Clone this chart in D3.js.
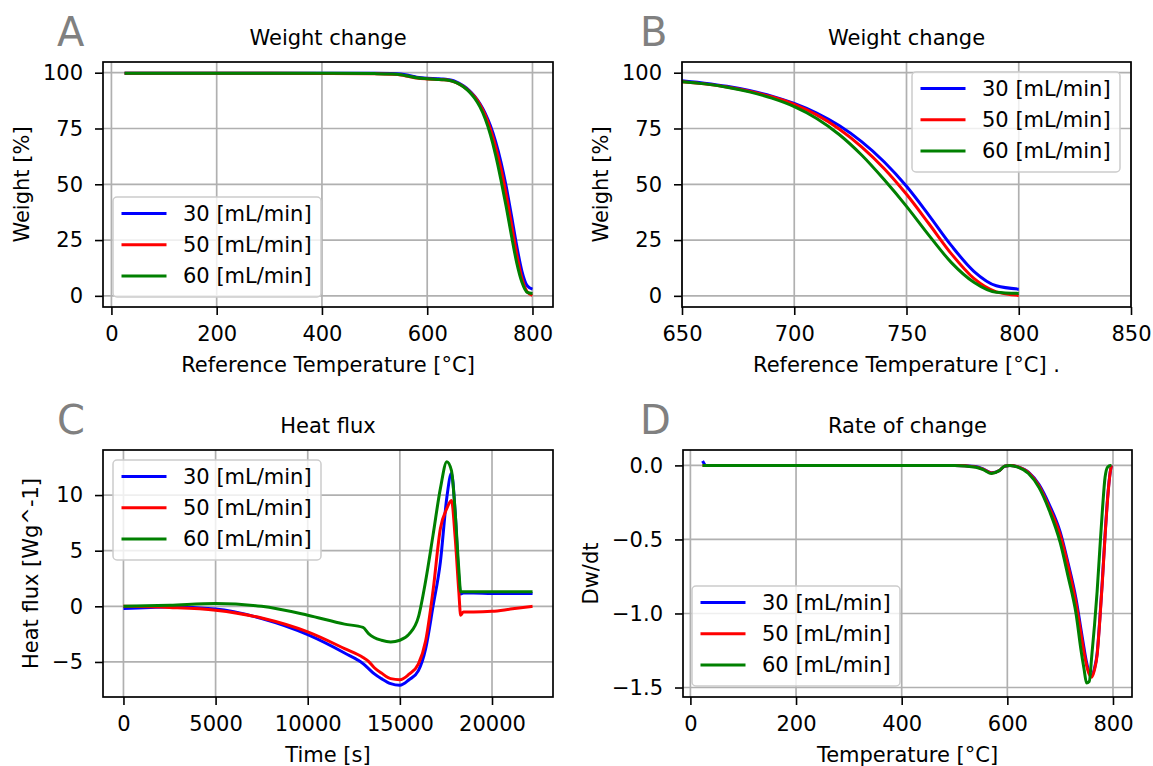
<!DOCTYPE html>
<html>
<head>
<meta charset="utf-8">
<script src="https://cdn.jsdelivr.net/npm/d3@7"></script>
<style>
  body { margin: 0; background: #fff; }
  svg { display: block; font-family: "DejaVu Sans", sans-serif; }
</style>
</head>
<body>
<svg id="fig" width="1153" height="766"></svg>
<script>
// ---------- data ----------
const seriesNames = ["30 [mL/min]", "50 [mL/min]", "60 [mL/min]"];
const seriesColors = ["#0000ff", "#ff0000", "#008000"];

// A + B: weight vs reference temperature
const weightTemp = [25, 100, 200, 300, 400, 500, 530, 550, 565, 580, 600, 620, 630, 640, 650, 660, 670, 680, 690, 700, 710, 720, 730, 740, 750, 760, 770, 780, 790, 800];
const weight30 = [99.8, 99.8, 99.8, 99.8, 99.8, 99.75, 99.65, 99.4, 98.8, 98.0, 97.5, 97.35, 97.2, 96.9, 96.4, 95.3, 93.9, 92.0, 89.5, 86.2, 81.9, 76.3, 69.1, 60.1, 49.1, 36.1, 22.5, 11.0, 4.5, 3.0];
const weight50 = [99.8, 99.8, 99.8, 99.75, 99.7, 99.55, 99.35, 99.0, 98.3, 97.6, 97.2, 97.0, 96.85, 96.6, 96.0, 95.0, 93.6, 91.7, 89.2, 85.8, 81.1, 74.8, 66.8, 57.1, 45.5, 32.3, 18.8, 7.8, 1.8, 0.2];
const weight60 = [99.8, 99.8, 99.8, 99.8, 99.75, 99.6, 99.45, 99.1, 98.4, 97.7, 97.3, 97.0, 96.85, 96.6, 96.0, 95.0, 93.5, 91.4, 88.6, 84.8, 79.5, 72.3, 63.1, 52.1, 40.1, 27.1, 14.9, 6.1, 1.6, 1.1];

// C: heat flux vs time
const time = [0, 2500, 5000, 7500, 10000, 12000, 13000, 13300, 13600, 14000, 14500, 15000, 15500, 16000, 16400, 16800, 17200, 17550, 17800, 18000, 18200, 18300, 18450, 19000, 20000, 21000, 22200];
const flux30 = [-0.2, -0.05, -0.25, -1.1, -2.55, -4.2, -5.15, -5.6, -6.05, -6.5, -6.95, -7.1, -6.6, -5.8, -3.8, 0.0, 4.0, 9.8, 11.95, 8.5, 2.6, 1.1, 1.2, 1.2, 1.15, 1.15, 1.15];
const flux50 = [0, -0.1, -0.35, -1.05, -2.3, -3.8, -4.6, -4.95, -5.5, -6.0, -6.5, -6.6, -6.1, -5.2, -3.1, 1.4, 7.0, 8.8, 9.5, 6.2, 1.3, -0.8, -0.5, -0.5, -0.45, -0.25, 0];
const flux60 = [0, 0.1, 0.25, 0.0, -0.8, -1.6, -1.9, -2.45, -2.8, -3.05, -3.2, -3.05, -2.5, -1.0, 2.3, 6.4, 10.6, 13.0, 12.2, 8.5, 3.3, 1.3, 1.3, 1.3, 1.3, 1.3, 1.3];

// D: rate of change vs temperature
const rateTemp = [23, 30, 100, 200, 300, 400, 500, 540, 555, 570, 585, 595, 605, 620, 640, 660, 680, 700, 715, 730, 740, 745, 750, 755, 760, 765, 770, 775, 780, 785, 790, 795, 797];
const rate30 = [0.03, 0, 0, 0, 0, 0, 0, -0.008, -0.025, -0.05, -0.035, -0.006, 0, -0.01, -0.045, -0.13, -0.27, -0.45, -0.66, -0.9, -1.12, -1.23, -1.33, -1.40, -1.42, -1.37, -1.27, -1.04, -0.77, -0.47, -0.21, -0.04, 0];
const rate50 = [0, 0, 0, 0, 0, 0, 0, -0.01, -0.027, -0.052, -0.035, -0.005, 0, -0.01, -0.048, -0.14, -0.29, -0.47, -0.68, -0.93, -1.15, -1.26, -1.35, -1.41, -1.43, -1.38, -1.28, -1.05, -0.78, -0.48, -0.22, -0.04, 0];
const rate60 = [0, 0, 0, 0, 0, 0, 0, -0.012, -0.03, -0.055, -0.035, -0.005, 0, -0.012, -0.055, -0.15, -0.31, -0.52, -0.75, -1.0, -1.26, -1.37, -1.47, -1.46, -1.28, -1.08, -0.85, -0.57, -0.3, -0.08, -0.01, 0, 0];

// tick values
const tempTicks = [0, 200, 400, 600, 800];
const zoomTicks = [650, 700, 750, 800, 850];
const timeTicks = [0, 5000, 10000, 15000, 20000];
const weightTicks = [0, 25, 50, 75, 100];
const fluxTicks = [-5, 0, 5, 10];
const rateTicks = [-1.5, -1.0, -0.5, 0.0];

// ---------- layout ----------
const FONT = 21;
const svg = d3.select("#fig");
const defs = svg.append("defs");

const panels = [
  {
    id: "A", letter: [57, 46], title: "Weight change",
    box: { l: 103, r: 553, t: 62, b: 307 },
    x: weightTemp, ys: [weight30, weight50, weight60],
    xDomain: [-16, 839], yDomain: [-5, 104.8],
    xTicks: tempTicks, yTicks: weightTicks, yFmt: d3.format("d"),
    xlabel: "Reference Temperature [°C]", ylabel: "Weight [%]", ylabelX: 28.5,
    legend: [113, 197]
  },
  {
    id: "B", letter: [640, 46], title: "Weight change",
    box: { l: 682, r: 1131, t: 62, b: 307 },
    x: weightTemp, ys: [weight30, weight50, weight60],
    xDomain: [650, 850], yDomain: [-5, 104.8],
    xTicks: zoomTicks, yTicks: weightTicks, yFmt: d3.format("d"),
    xlabel: "Reference Temperature [°C] .", ylabel: "Weight [%]", ylabelX: 607.5,
    legend: [912, 72]
  },
  {
    id: "C", letter: [57, 434], title: "Heat flux",
    box: { l: 103, r: 553, t: 450, b: 697 },
    x: time, ys: [flux30, flux50, flux60],
    xDomain: [-1110, 23310], yDomain: [-8.15, 14.05],
    xTicks: timeTicks, yTicks: fluxTicks, yFmt: d3.format("d"),
    xlabel: "Time [s]", ylabel: "Heat flux [Wg^-1]", ylabelX: 37.5,
    legend: [113, 460]
  },
  {
    id: "D", letter: [640, 434], title: "Rate of change",
    box: { l: 683, r: 1132, t: 450, b: 697 },
    x: rateTemp, ys: [rate30, rate50, rate60],
    xDomain: [-14, 836], yDomain: [-1.564, 0.104],
    xTicks: tempTicks, yTicks: rateTicks, yFmt: d3.format(".1f"),
    xlabel: "Temperature [°C]", ylabel: "Dw/dt", ylabelX: 597.5,
    legend: [692, 586]
  }
];

function drawPanel(p) {
  const { l, r, t, b } = p.box;
  const x = d3.scaleLinear().domain(p.xDomain).range([l, r]);
  const y = d3.scaleLinear().domain(p.yDomain).range([b, t]);
  const g = svg.append("g").attr("class", "panel-" + p.id);

  // clip
  defs.append("clipPath").attr("id", "clip" + p.id)
    .append("rect").attr("x", l).attr("y", t).attr("width", r - l).attr("height", b - t);

  // grid
  const grid = g.append("g").attr("stroke", "#b0b0b0").attr("stroke-width", 1.7);
  grid.selectAll("line.gx").data(p.xTicks).join("line")
    .attr("class", "gx")
    .attr("x1", d => x(d)).attr("x2", d => x(d)).attr("y1", t).attr("y2", b);
  grid.selectAll("line.gy").data(p.yTicks).join("line")
    .attr("class", "gy")
    .attr("x1", l).attr("x2", r).attr("y1", d => y(d)).attr("y2", d => y(d));

  // lines
  const line = d3.line().x(d => x(d[0])).y(d => y(d[1])).curve(d3.curveMonotoneX);
  g.append("g").attr("clip-path", `url(#clip${p.id})`)
    .selectAll("path").data(p.ys).join("path")
    .attr("fill", "none")
    .attr("stroke", (d, i) => seriesColors[i])
    .attr("stroke-width", 3)
    .attr("stroke-linejoin", "round")
    .attr("d", ys => line(p.x.map((v, i) => [v, ys[i]])));

  // axes
  const styleAxis = sel => {
    sel.select(".domain").remove();
    sel.attr("font-family", "DejaVu Sans").attr("font-size", FONT);
    sel.selectAll(".tick line").attr("stroke", "#000").attr("stroke-width", 1.6);
    sel.selectAll(".tick text").attr("fill", "#000");
  };
  g.append("g").attr("transform", `translate(0,${b})`)
    .call(d3.axisBottom(x).tickValues(p.xTicks).tickFormat(d3.format("d"))
      .tickSizeInner(8).tickSizeOuter(0).tickPadding(11))
    .call(styleAxis);
  g.append("g").attr("transform", `translate(${l},0)`)
    .call(d3.axisLeft(y).tickValues(p.yTicks).tickFormat(p.yFmt)
      .tickSizeInner(8).tickSizeOuter(0).tickPadding(12))
    .call(styleAxis);

  // frame
  g.append("rect").attr("x", l).attr("y", t).attr("width", r - l).attr("height", b - t)
    .attr("fill", "none").attr("stroke", "#000").attr("stroke-width", 1.7);

  // labels
  g.append("text").attr("x", (l + r) / 2).attr("y", t - 17)
    .attr("text-anchor", "middle").attr("font-size", FONT).text(p.title);
  g.append("text").attr("x", (l + r) / 2).attr("y", b + 65)
    .attr("text-anchor", "middle").attr("font-size", FONT).text(p.xlabel);
  g.append("text")
    .attr("transform", `translate(${p.ylabelX},${(t + b) / 2}) rotate(-90)`)
    .attr("text-anchor", "middle").attr("font-size", FONT).text(p.ylabel);
  g.append("text").attr("x", p.letter[0]).attr("y", p.letter[1])
    .attr("font-size", 40).attr("fill", "#808080").text(p.id);

  // legend
  const [lx, ly] = p.legend;
  const lg = g.append("g").attr("transform", `translate(${lx},${ly})`);
  lg.append("rect").attr("width", 208).attr("height", 100).attr("rx", 4)
    .attr("fill", "#fff").attr("fill-opacity", 0.8)
    .attr("stroke", "#cccccc").attr("stroke-width", 1.5);
  const rows = lg.selectAll("g.row").data(seriesNames).join("g")
    .attr("class", "row")
    .attr("transform", (d, i) => `translate(0,${16.5 + i * 31.2})`);
  rows.append("line").attr("x1", 8.5).attr("x2", 53.5)
    .attr("stroke", (d, i) => seriesColors[i]).attr("stroke-width", 3);
  rows.append("text").attr("x", 70).attr("dy", "0.36em")
    .attr("font-size", FONT).text(d => d);
}

panels.forEach(drawPanel);
</script>
</body>
</html>
